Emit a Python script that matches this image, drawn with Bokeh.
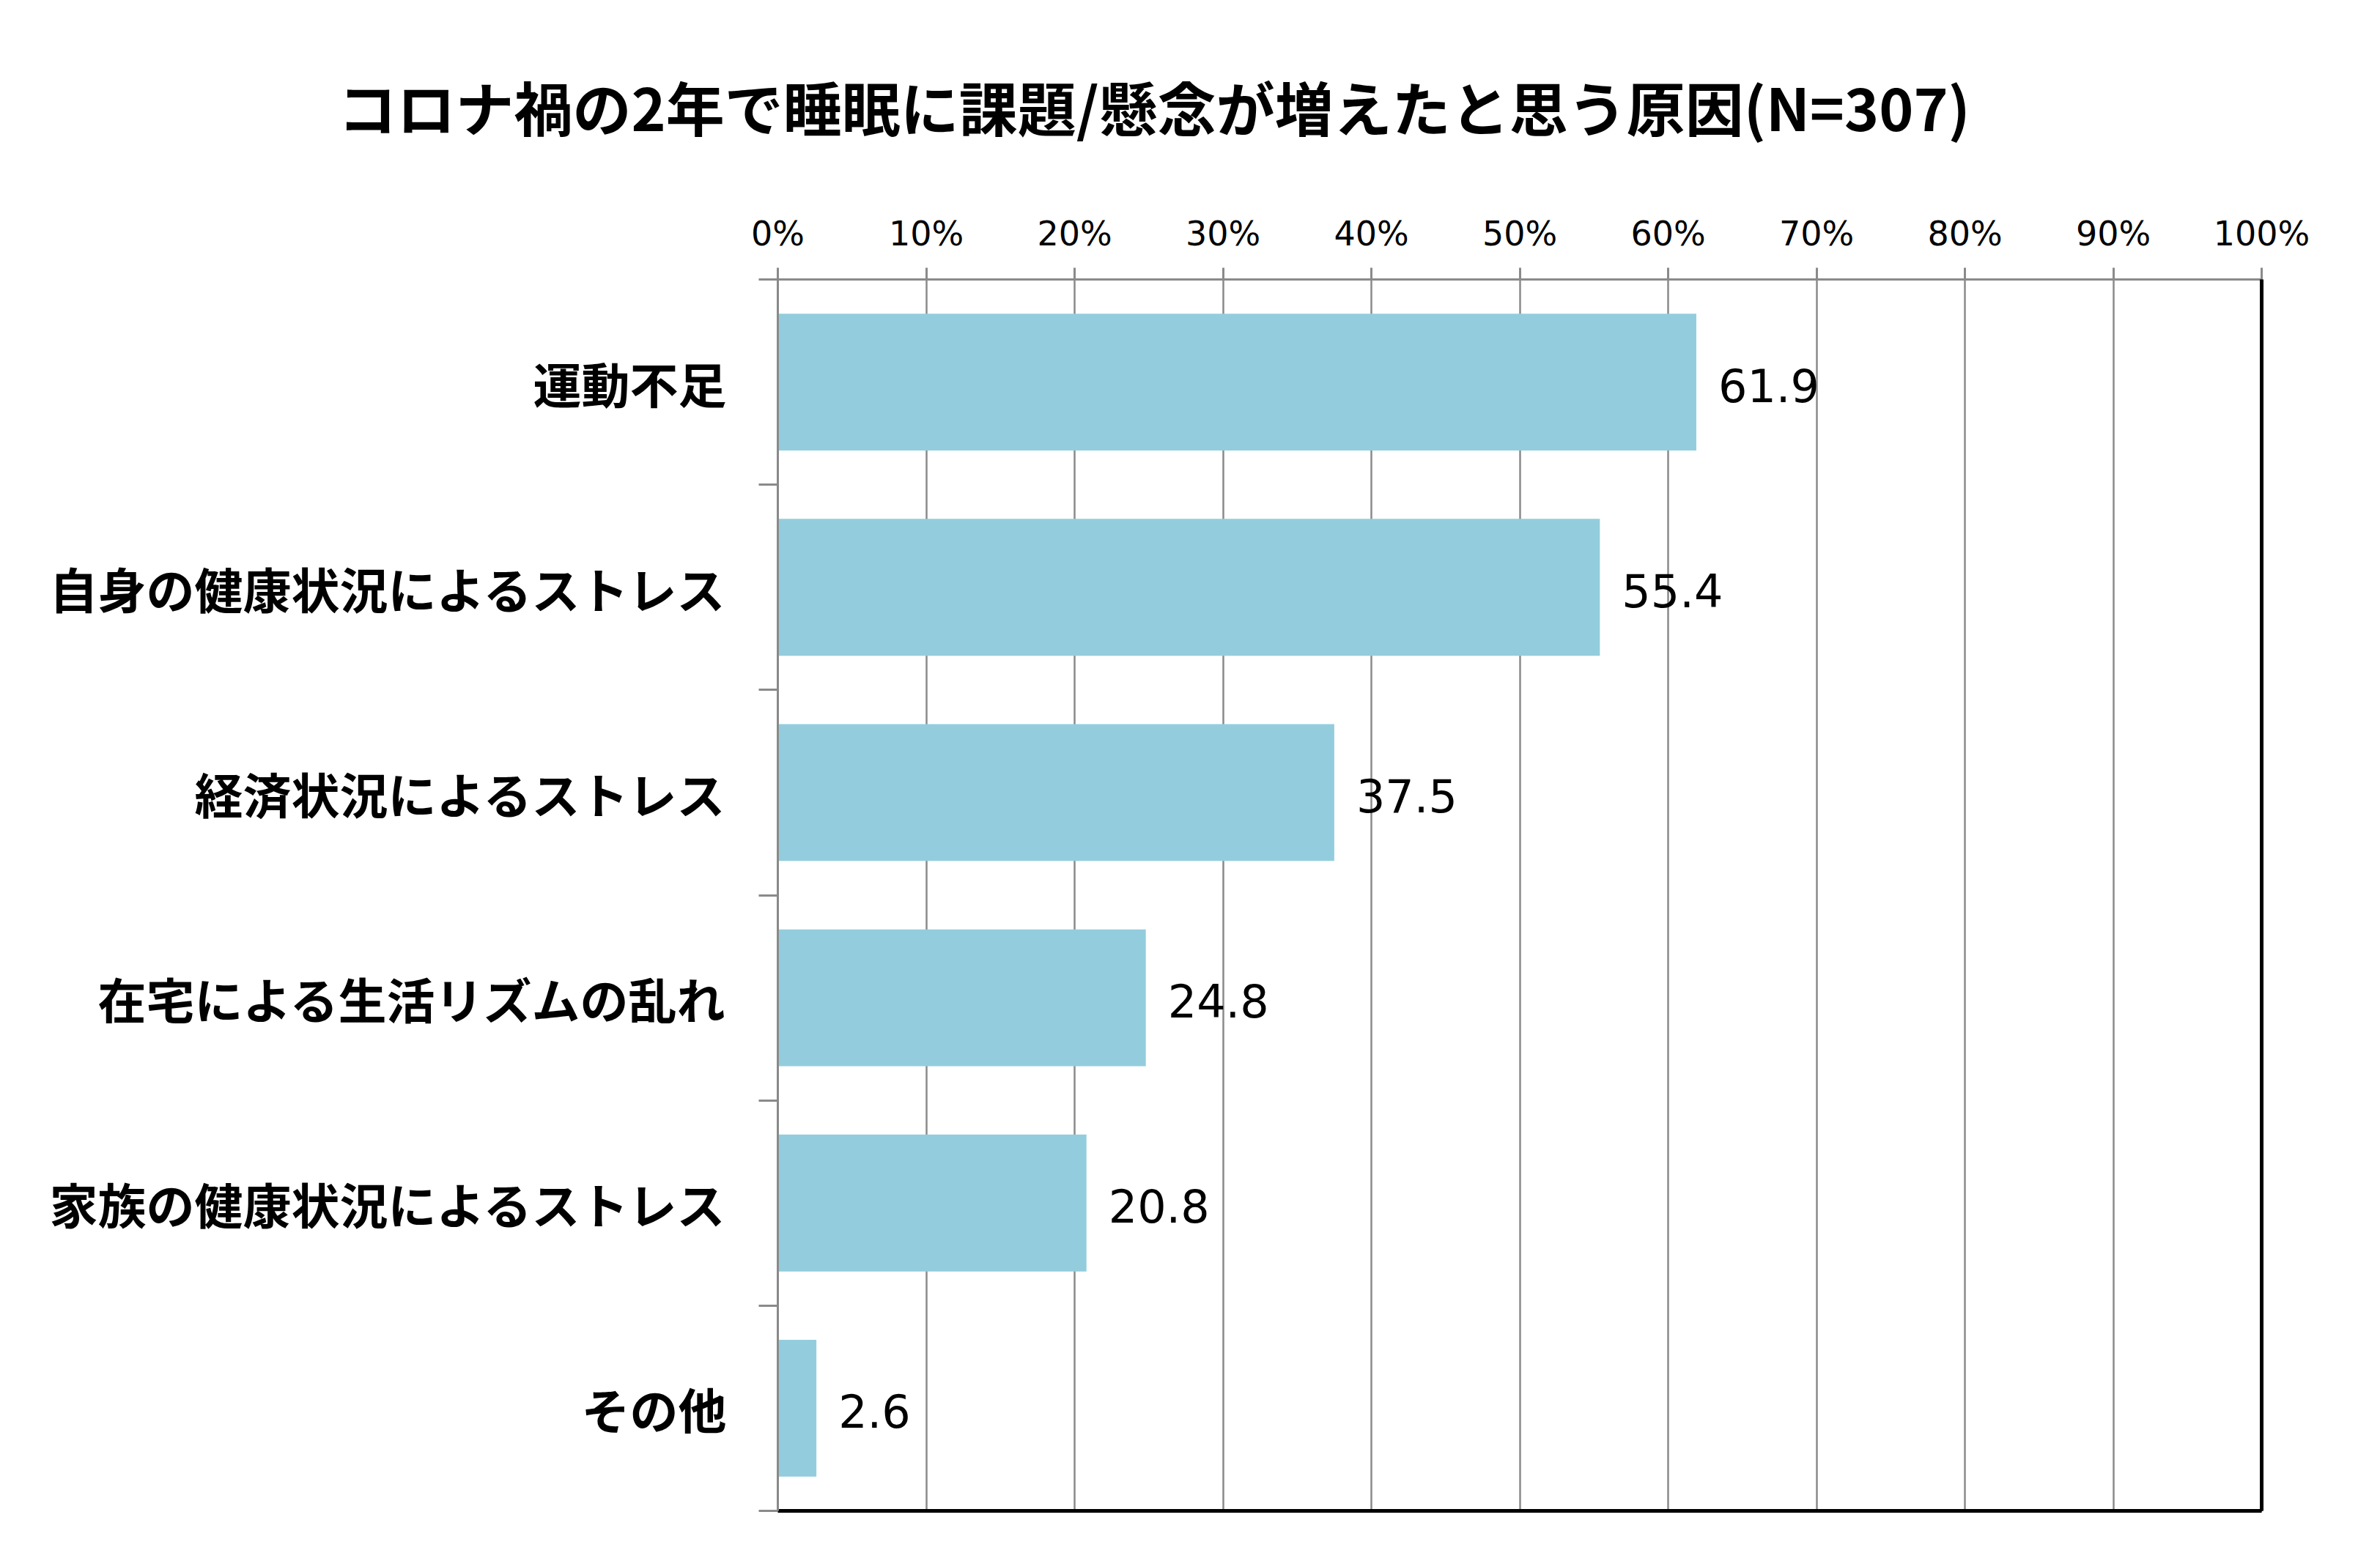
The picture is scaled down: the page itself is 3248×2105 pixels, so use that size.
from bokeh.plotting import figure
from bokeh.models import (ColumnDataSource, LinearAxis, FixedTicker, PrintfTickFormatter,
                          Range1d, LabelSet, Title)
from bokeh.core.properties import value
from bokeh.embed import file_html
from bokeh.resources import INLINE

# ---- data ----
title_text = "コロナ禍の2年で睡眠に課題/懸念が増えたと思う原因(N=307)"
categories = ["運動不足", "自身の健康状況によるストレス", "経済状況によるストレス",
              "在宅による生活リズムの乱れ", "家族の健康状況によるストレス", "その他"]
values = [61.9, 55.4, 37.5, 24.8, 20.8, 2.6]
x_ticks = [0, 10, 20, 30, 40, 50, 60, 70, 80, 90, 100]

n = len(categories)
pos = [n - 0.5 - i for i in range(n)]
bounds = [float(i) for i in range(n + 1)]
labels = ["%.1f" % v for v in values]

src = ColumnDataSource(dict(cat=categories, val=values, pos=pos, lab=labels))

W, H = 3232, 2089
p = figure(width=W, height=H, output_backend="svg", toolbar_location=None,
           x_range=Range1d(0, 100), y_range=Range1d(0, n),
           x_axis_location=None, y_axis_location=None,
           min_border_left=1061, min_border_right=146,
           min_border_top=381, min_border_bottom=27)
p.background_fill_color = "white"
p.border_fill_color = "white"
p.outline_line_color = "black"
p.outline_line_width = 2

GRAY = "#8a8a8a"

# grid
p.xgrid.ticker = FixedTicker(ticks=x_ticks)
p.xgrid.grid_line_color = GRAY
p.xgrid.grid_line_width = 2.5
p.ygrid.grid_line_color = None

# bars
p.hbar(y="pos", right="val", left=0, height=0.667, source=src,
       fill_color="#93CDDD", line_color=None)

# value labels
p.add_layout(LabelSet(x="val", y="pos", text="lab", source=src, x_offset=30, y_offset=-4,
                      text_baseline="middle", text_align="left",
                      text_font=value("DejaVu Sans"), text_font_size=value("62px"),
                      text_color="black"))

# top axis
xa = LinearAxis(ticker=FixedTicker(ticks=x_ticks),
                formatter=PrintfTickFormatter(format="%d%%"))
xa.axis_line_color = GRAY
xa.axis_line_width = 3
xa.major_tick_out = 16
xa.major_tick_in = 0
xa.major_tick_line_color = GRAY
xa.major_tick_line_width = 3
xa.minor_tick_out = 0
xa.minor_tick_in = 0
xa.major_label_standoff = 20
xa.major_label_text_font = "DejaVu Sans"
xa.major_label_text_font_size = "46px"
xa.major_label_text_color = "black"
p.add_layout(xa, "above")

# left axis (labels at category centres, minor ticks at boundaries)
ya = LinearAxis(ticker=FixedTicker(ticks=pos, minor_ticks=bounds),
                major_label_overrides={pp: c for pp, c in zip(pos, categories)})
ya.axis_line_color = GRAY
ya.axis_line_width = 3
ya.major_tick_out = 0
ya.major_tick_in = 0
ya.minor_tick_out = 26
ya.minor_tick_in = 0
ya.minor_tick_line_color = GRAY
ya.minor_tick_line_width = 3
ya.major_label_standoff = 44
ya.major_label_text_font = "Noto Sans CJK JP"
ya.major_label_text_font_style = "bold"
ya.major_label_text_font_size = "66px"
ya.major_label_text_color = "black"
p.add_layout(ya, "left")

# thick black right / bottom borders
for loc in ("right", "below"):
    ax = LinearAxis(ticker=FixedTicker(ticks=[]))
    ax.axis_line_color = "black"
    ax.axis_line_width = 5
    ax.major_tick_out = 0
    ax.major_tick_in = 0
    ax.minor_tick_out = 0
    ax.minor_tick_in = 0
    ax.major_label_standoff = 0
    ax.major_label_text_font_size = "0px"
    p.add_layout(ax, loc)

# title
p.title = Title(text=title_text, align="left", offset=-600, standoff=170,
                vertical_align="top",
                text_font="Noto Sans CJK JP", text_font_style="bold",
                text_font_size="80px", text_color="black")

open("out.html", "w").write(file_html(p, INLINE))
